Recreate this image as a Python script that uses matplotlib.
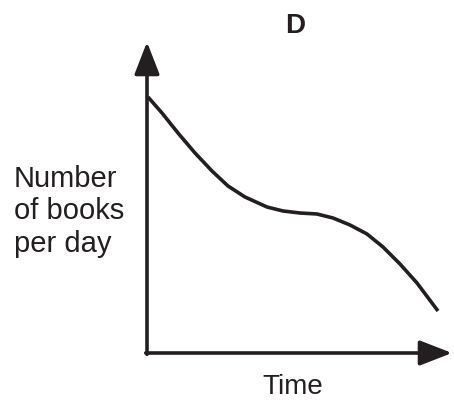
import matplotlib
matplotlib.use("Agg")
import matplotlib.pyplot as plt

# Data (axis units: arbitrary, origin at the axes corner)
time_vals = [1, 15, 31, 48, 65, 81, 98, 120, 136, 153, 170, 186, 203, 220, 236, 253, 270, 291]
books_vals = [256, 240, 220, 200, 182, 167, 156, 146, 142, 140, 139, 135, 128, 119, 106, 89, 70, 42]

title = "D"
xlabel = "Time"
ylabel_lines = ["Number", "of books", "per day"]

W, H = 454, 400
ink = "#231f20"
plt.rcParams['font.family'] = ['Liberation Sans', 'DejaVu Sans']

fig = plt.figure(figsize=(W / 100, H / 100), dpi=100)
ax = fig.add_axes([147 / W, 47 / H, 305 / W, 311 / H])
ax.set_xlim(0, 305)
ax.set_ylim(0, 311)
ax.axis("off")

ax.plot(time_vals, books_vals, color=ink, lw=2.6, solid_capstyle="butt",
        solid_joinstyle="round", clip_on=False)

arrow = dict(arrowstyle="-|>,head_length=0.9,head_width=0.35", lw=2.6, color=ink,
             mutation_scale=22, shrinkA=0, shrinkB=0)
ax.annotate("", xy=(305, 0), xytext=(-1.3, 0), arrowprops=arrow, annotation_clip=False)
ax.annotate("", xy=(0, 311), xytext=(0, -1.3), arrowprops=arrow, annotation_clip=False)

fig.text(295 / W, 1 - 33 / H, title, ha="center", va="baseline", fontsize=20,
         fontweight="bold", color=ink)
fig.text(293 / W, 1 - 394 / H, xlabel, ha="center", va="baseline", fontsize=20, color=ink)
for i, line in enumerate(ylabel_lines):
    fig.text(14 / W, 1 - (187 + 32.5 * i) / H, line, ha="left", va="baseline",
             fontsize=21, color=ink)

fig.savefig("out.png", dpi=100)
